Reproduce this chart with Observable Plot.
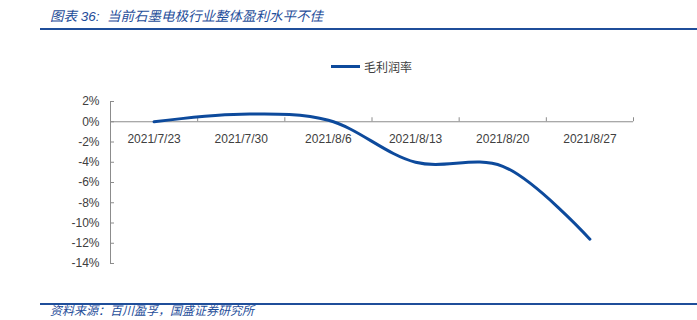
<!DOCTYPE html>
<html>
<head>
<meta charset="utf-8">
<script src="https://cdn.jsdelivr.net/npm/d3@7"></script>
<script src="https://cdn.jsdelivr.net/npm/@observablehq/plot@0.6"></script>
<style>
  body { margin: 0; background: #fff; }
  #wrap { position: relative; width: 697px; height: 320px; overflow: hidden; font-family: "Liberation Sans", "Noto Sans CJK SC", sans-serif; }
  #wrap svg { position: absolute; left: 0; top: 0; }
  .title { position: absolute; left: 50px; top: 5px; font-size: 13.5px; font-style: italic; color: #1F4E9A; font-family: "Liberation Sans", "Noto Sans CJK SC", sans-serif; white-space: nowrap; }
  .rule { position: absolute; left: 40px; right: 0; height: 2px; background: #1F4E9A; }
  .legend { position: absolute; left: 331px; top: 58px; display: flex; align-items: center; font-size: 12px; color: #404040; font-family: "Noto Sans CJK SC", sans-serif; }
  .legend .sw { width: 29px; height: 3px; background: #0D4A9C; margin-right: 4px; }
  .source { position: absolute; left: 50px; top: 303px; font-size: 12px; font-style: italic; color: #1F4E9A; font-family: "Noto Sans CJK SC", sans-serif; white-space: nowrap; line-height: 14px; }
</style>
</head>
<body>
<div id="wrap">
  <div class="title">图表 36:&nbsp; 当前石墨电极行业整体盈利水平不佳</div>
  <div class="rule" style="top:28px"></div>
  <div class="legend"><div class="sw"></div><span>毛利润率</span></div>
  <div class="rule" style="top:303px"></div>
  <div class="source">资料来源：百川盈孚，国盛证券研究所</div>
</div>
<script>
const dates = ["2021/7/23", "2021/7/30", "2021/8/6", "2021/8/13", "2021/8/20", "2021/8/27"];
const grossMargin = [0.0, 0.75, 0.15, -4.0, -4.4, -11.6];
const yTicks = [2, 0, -2, -4, -6, -8, -10, -12, -14];

const data = dates.map((d, i) => ({i, date: d, value: grossMargin[i]}));
const xDomain = [-0.5, dates.length - 0.5];
const bounds = d3.range(dates.length + 1).map(k => k - 0.5);
const yDomain = [d3.min(yTicks), d3.max(yTicks)];
const axisColor = "#8c8c8c";
const textColor = "#404040";

const chart = Plot.plot({
  width: 697,
  height: 320,
  marginLeft: 110,
  marginRight: 64,
  marginTop: 101,
  marginBottom: 57,
  style: {fontFamily: "Liberation Sans, sans-serif", fontSize: "12px", color: textColor, background: "transparent"},
  x: {domain: xDomain, axis: null},
  y: {domain: yDomain, axis: null},
  marks: [
    Plot.ruleX([xDomain[0]], {stroke: axisColor, strokeWidth: 1}),
    Plot.tickY(yTicks, {y: d => d, stroke: axisColor, insetRight: 519}),
    Plot.text(yTicks, {y: d => d, frameAnchor: "left", dx: -11, textAnchor: "end", text: d => `${d}%`, fill: textColor, fontSize: 12}),
    Plot.ruleY([0], {stroke: axisColor, strokeWidth: 1}),
    Plot.ruleX(bounds, {x: d => d, y1: 0, y2: 0, insetTop: -4, stroke: axisColor}),
    Plot.text(data, {x: "i", y: () => 0, text: "date", dy: 17, fill: textColor, fontSize: 12}),
    Plot.line(data, {x: "i", y: "value", curve: "catmull-rom", stroke: "#0D4A9C", strokeWidth: 3})
  ]
});
document.getElementById("wrap").prepend(chart);
</script>
</body>
</html>
